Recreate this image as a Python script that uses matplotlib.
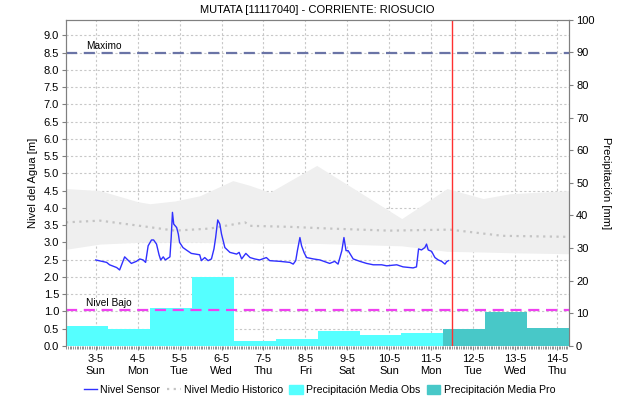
import matplotlib.pyplot as plt
from matplotlib.lines import Line2D
from matplotlib.patches import Patch

plt.rcParams['font.family'] = ['Liberation Sans', 'DejaVu Sans']
plt.rcParams['font.size'] = 8

# x values are days counted from 3-5 00:00
day_ticks = list(range(12))
day_labels = ['3-5\nSun', '4-5\nMon', '5-5\nTue', '6-5\nWed', '7-5\nThu', '8-5\nFri',
              '9-5\nSat', '10-5\nSun', '11-5\nMon', '12-5\nTue', '13-5\nWed', '14-5\nThu']
x_start = -17 / 24   # 2-5 07:00
x_end = 11 + 7 / 24  # 14-5 07:00
now_t = 8.5

# nivel del sensor [m]
sensor_t = [0.0, 0.26, 0.33, 0.50, 0.57, 0.69, 0.85, 0.97, 1.05, 1.13, 1.19, 1.25, 1.33, 1.38,
            1.45, 1.51, 1.55, 1.61, 1.66, 1.77, 1.80, 1.83, 1.86, 1.93, 1.97, 2.00, 2.08, 2.16,
            2.28, 2.48, 2.52, 2.60, 2.68, 2.76, 2.82, 2.86, 2.91, 2.96, 3.00, 3.08, 3.20, 3.36,
            3.42, 3.48, 3.58, 3.68, 3.79, 3.91, 4.07, 4.15, 4.39, 4.63, 4.71, 4.77, 4.81, 4.87,
            4.91, 4.97, 5.03, 5.19, 5.35, 5.58, 5.70, 5.78, 5.87, 5.92, 5.97, 6.02, 6.14, 6.30,
            6.46, 6.62, 6.82, 6.94, 7.18, 7.33, 7.57, 7.65, 7.70, 7.77, 7.85, 7.89, 7.93, 8.01,
            8.09, 8.17, 8.25, 8.33, 8.37, 8.41]
sensor_lvl = [2.49, 2.42, 2.35, 2.27, 2.20, 2.58, 2.39, 2.45, 2.52, 2.49, 2.42, 2.90, 3.07, 3.07,
              2.95, 2.64, 2.49, 2.58, 2.49, 2.58, 3.14, 3.87, 3.53, 3.43, 3.24, 3.00, 2.85, 2.78,
              2.68, 2.64, 2.47, 2.56, 2.47, 2.52, 2.81, 3.14, 3.65, 3.53, 3.24, 2.85, 2.71, 2.66,
              2.71, 2.52, 2.68, 2.56, 2.52, 2.49, 2.56, 2.47, 2.45, 2.42, 2.37, 2.47, 2.76, 3.14,
              2.90, 2.70, 2.56, 2.52, 2.49, 2.39, 2.45, 2.37, 2.76, 3.14, 2.76, 2.76, 2.52, 2.45,
              2.39, 2.35, 2.35, 2.32, 2.35, 2.29, 2.26, 2.29, 2.81, 2.78, 2.85, 2.95, 2.78, 2.74,
              2.56, 2.49, 2.45, 2.37, 2.44, 2.47]

# rango historico [m]
band_t = [-0.71, 0.10, 1.00, 1.29, 1.89, 2.48, 3.27, 3.68, 4.15, 5.27, 7.30, 8.38, 9.24, 9.88, 11.29]
band_hi = [4.56, 4.50, 4.18, 4.12, 4.20, 4.35, 4.79, 4.65, 4.45, 5.23, 3.69, 4.56, 4.27, 4.41, 4.50]
band_lo = [2.80, 2.95, 3.00, 3.00, 3.00, 3.00, 2.98, 2.98, 2.97, 2.97, 2.90, 2.74, 2.72, 2.70, 2.67]

# nivel medio historico [m]
mean_t = [-0.71, 0.10, 1.05, 1.89, 2.72, 3.56, 3.68, 4.63, 5.58, 7.00, 8.45, 9.00, 9.70, 11.29]
mean_lvl = [3.58, 3.63, 3.48, 3.34, 3.40, 3.58, 3.48, 3.45, 3.40, 3.34, 3.37, 3.29, 3.19, 3.16]

# precipitacion diaria 07:00 - 07:00 [mm]
obs_start = [-17 / 24 + i for i in range(9)]
obs_mm = [6.2, 5.3, 11.5, 21.1, 1.6, 2.2, 4.6, 3.4, 3.8]
pro_start = [8 + 7 / 24 + i for i in range(3)]
pro_mm = [5.3, 10.5, 5.6]

nivel_max = 8.5
nivel_bajo = 1.05

fig = plt.figure(figsize=(6.2, 4.05), dpi=100)
ax = fig.add_axes([0.1065, 0.146, 0.8115, 0.805])
ax2 = ax.twinx()

ax.fill_between(band_t, band_lo, band_hi, color='#efefef', lw=0)
ax.plot(mean_t, mean_lvl, color='#c4c4c4', lw=1.6, linestyle=(0, (1, 2)))
ax.plot(sensor_t, sensor_lvl, color='#3030ff', lw=1)
ax.axhline(nivel_max, color='#6a74a6', lw=1.6, dashes=(5, 3))
ax.text(-0.24, nivel_max + 0.04, 'Maximo', fontsize=7.3, va='bottom')
ax.text(-0.24, nivel_bajo + 0.04, 'Nivel Bajo', fontsize=7.3, va='bottom')

ax2.bar(obs_start, obs_mm, width=1, align='edge', color='#55ffff', lw=0)
ax2.bar(pro_start, pro_mm, width=1, align='edge', color='#48c8c8', lw=0)
ax2.plot([x_start, x_end], [nivel_bajo, nivel_bajo], transform=ax.transData,
         color='#f040f0', lw=1.6, dashes=(5, 3))
ax2.axvline(now_t, color='#ff3030', lw=1)

ax.set_xlim(x_start, x_end)
ax.set_ylim(0, 9.45)
ax2.set_ylim(0, 100)
ax.set_yticks([i * 0.5 for i in range(19)])
ax.set_yticklabels(['%.1f' % (i * 0.5) for i in range(19)])
ax2.set_yticks(range(0, 101, 10))
ax.set_xticks(day_ticks)
ax.set_xticklabels(day_labels)
ax.set_xticks([h / 24 for h in range(-17, 24 * 11 + 7)], minor=True)
ax.tick_params(axis='x', which='minor', length=2, color='#808080', width=0.6)
ax.tick_params(axis='x', which='major', length=3, color='#808080', pad=3)
ax.tick_params(axis='y', length=3, color='#808080', pad=2)
ax2.tick_params(axis='y', length=3, color='#808080', pad=2)

ax.grid(True, color='#c8c8c8', linestyle=(0, (2, 2)), lw=0.8)
ax.set_axisbelow(True)
for a in (ax, ax2):
    for s in a.spines.values():
        s.set_color('#808080')
ax.spines['bottom'].set_visible(False)
ax2.spines['bottom'].set_visible(False)

ax.set_ylabel('Nivel del Agua [m]', labelpad=4)
ax2.set_ylabel('Precipitación [mm]', rotation=-90, labelpad=12)
ax.set_title('MUTATA [11117040] - CORRIENTE: RIOSUCIO', fontsize=8, pad=5)

handles = [Line2D([], [], color='#3030ff', lw=1),
           Line2D([], [], color='#c4c4c4', lw=1.6, linestyle=(0, (1, 2))),
           Patch(color='#55ffff'), Patch(color='#48c8c8')]
labels = ['Nivel Sensor', 'Nivel Medio Historico', 'Precipitación Media Obs', 'Precipitación Media Pro']
fig.legend(handles, labels, loc='center', bbox_to_anchor=(0.515, 0.036), ncol=4, frameon=False,
           fontsize=7.6, handlelength=1.3, handletextpad=0.3, columnspacing=0.6,
           handleheight=0.9)

fig.savefig('out.png', dpi=100)
